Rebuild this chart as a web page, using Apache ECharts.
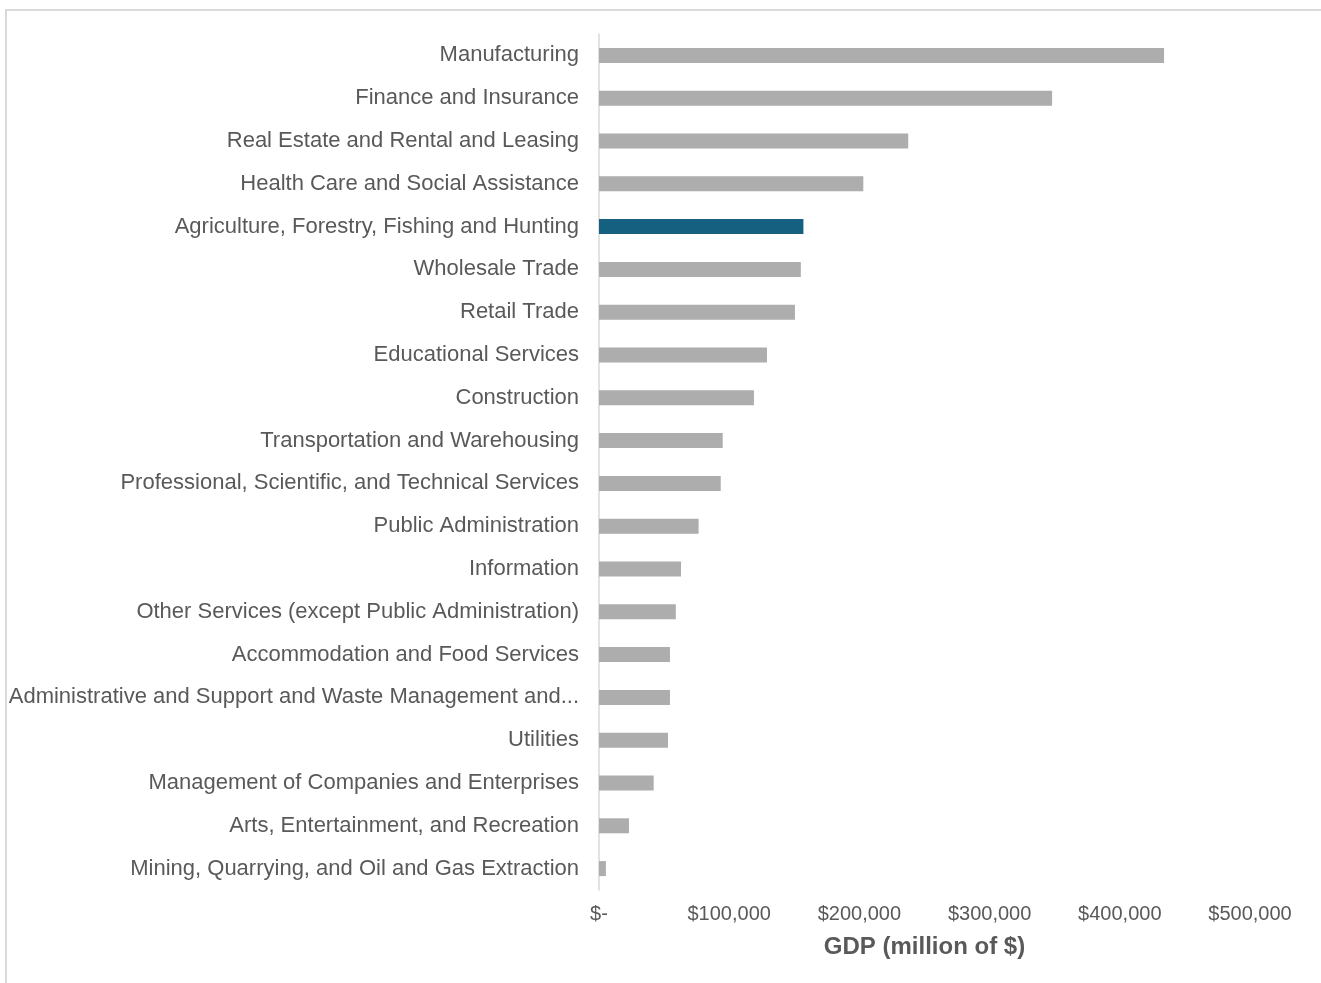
<!DOCTYPE html>
<html>
<head>
<meta charset="utf-8">
<script src="https://cdn.jsdelivr.net/npm/echarts@6/dist/echarts.min.js"></script>
<style>
html,body{margin:0;padding:0;background:#fff;}
#frame{position:absolute;left:5px;top:9px;width:1330px;height:990px;border:2px solid #d9d9d9;box-sizing:border-box;}
#chart{position:absolute;left:0;top:0;width:1321px;height:983px;}
</style>
</head>
<body>
<div id="frame"></div>
<div id="chart"></div>
<script>
const categories = [
  "Manufacturing",
  "Finance and Insurance",
  "Real Estate and Rental and Leasing",
  "Health Care and Social Assistance",
  "Agriculture, Forestry, Fishing and Hunting",
  "Wholesale Trade",
  "Retail Trade",
  "Educational Services",
  "Construction",
  "Transportation and Warehousing",
  "Professional, Scientific, and Technical Services",
  "Public Administration",
  "Information",
  "Other Services (except Public Administration)",
  "Accommodation and Food Services",
  "Administrative and Support and Waste Management and...",
  "Utilities",
  "Management of Companies and Enterprises",
  "Arts, Entertainment, and Recreation",
  "Mining, Quarrying, and Oil and Gas Extraction"
];
const gdpValues = [434000, 348000, 237500, 203000, 157000, 155000, 150500, 129000, 119000, 95000, 93500, 76500, 63000, 59000, 54500, 54500, 53000, 42000, 23000, 5300];
const highlightCategory = "Agriculture, Forestry, Fishing and Hunting";
const xTicks = [0, 100000, 200000, 300000, 400000, 500000];

const chart = echarts.init(document.getElementById('chart'));
const font = 'Liberation Sans, Arial, sans-serif';
chart.setOption({
  animation: false,
  grid: {left: 599, right: 71, top: 34, bottom: 93, containLabel: false},
  xAxis: {
    type: 'value', min: xTicks[0], max: xTicks[xTicks.length-1], interval: 100000,
    axisLine: {show: false}, axisTick: {show: false}, splitLine: {show: false},
    axisLabel: {
      color: '#595959', fontFamily: font, fontSize: 20, margin: 14,
      formatter: v => v === 0 ? '$-' : '$' + v.toLocaleString('en-US')
    },
    name: 'GDP (million of $)', nameLocation: 'middle', nameGap: 45,
    nameTextStyle: {color: '#595959', fontFamily: font, fontSize: 24, fontWeight: 'bold'}
  },
  yAxis: {
    type: 'category', data: categories, inverse: true,
    axisLine: {show: true, lineStyle: {color: '#d9d9d9', width: 1.5}},
    axisTick: {show: false},
    axisLabel: {color: '#595959', fontFamily: font, fontSize: 22, margin: 20, padding: [3, 0, 0, 0]}
  },
  series: [{
    type: 'bar', barWidth: 15,
    data: gdpValues.map((v, i) => ({
      value: v,
      itemStyle: {color: categories[i] === highlightCategory ? '#155f80' : '#adadad'}
    }))
  }]
});
</script>
</body>
</html>
